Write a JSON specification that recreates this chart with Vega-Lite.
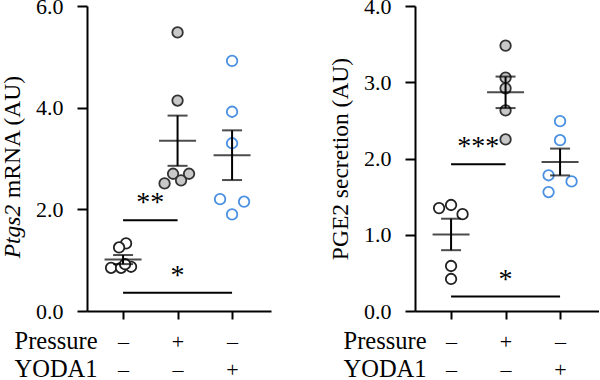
{
  "$schema": "https://vega.github.io/schema/vega-lite/v6.json",
  "background": "white",
  "padding": {"left": 0, "top": -5, "right": 0, "bottom": 0},
  "spacing": 57,
  "config": {
    "view": {"stroke": null},
    "font": "Liberation Serif",
    "style": {
      "guide-label": {"font": "Liberation Serif", "fontSize": 22, "fill": "#000000"},
      "guide-title": {"font": "Liberation Serif", "fontSize": 23.5, "fill": "#000000", "fontWeight": "normal"}
    },
    "axis": {
      "grid": false,
      "domainColor": "#000000",
      "domainWidth": 2,
      "tickColor": "#000000",
      "tickWidth": 2,
      "labelColor": "#000000",
      "labelFont": "Liberation Serif",
      "labelFontSize": 22,
      "titleColor": "#000000",
      "titleFont": "Liberation Serif",
      "titleFontSize": 23.5,
      "titleFontWeight": "normal"
    },
    "text": {"font": "Liberation Serif"}
  },
  "datasets": {
    "mrna": [
      {"g": 1, "v": 1.33, "j": 3},
      {"g": 1, "v": 1.25, "j": -4},
      {"g": 1, "v": 0.85, "j": -12},
      {"g": 1, "v": 0.85, "j": -2},
      {"g": 1, "v": 0.87, "j": 8},
      {"g": 1, "v": 0.92, "j": 2},
      {"g": 2, "v": 5.48, "j": 0},
      {"g": 2, "v": 4.14, "j": 0},
      {"g": 2, "v": 2.51, "j": -13},
      {"g": 2, "v": 2.70, "j": -4.5},
      {"g": 2, "v": 2.57, "j": 3.5},
      {"g": 2, "v": 2.70, "j": 11.5},
      {"g": 3, "v": 4.92, "j": 0},
      {"g": 3, "v": 3.92, "j": 0},
      {"g": 3, "v": 3.30, "j": 0},
      {"g": 3, "v": 2.20, "j": -12},
      {"g": 3, "v": 2.15, "j": 12},
      {"g": 3, "v": 1.90, "j": 0}
    ],
    "pge2": [
      {"g": 1, "v": 1.35, "j": -12},
      {"g": 1, "v": 1.39, "j": 0},
      {"g": 1, "v": 1.27, "j": 11.5},
      {"g": 1, "v": 0.59, "j": 0},
      {"g": 1, "v": 0.42, "j": 0},
      {"g": 2, "v": 3.48, "j": 0},
      {"g": 2, "v": 3.06, "j": 0},
      {"g": 2, "v": 2.92, "j": 0},
      {"g": 2, "v": 2.63, "j": 0},
      {"g": 2, "v": 2.25, "j": 0},
      {"g": 3, "v": 2.49, "j": 0},
      {"g": 3, "v": 2.24, "j": 0},
      {"g": 3, "v": 1.78, "j": -11.5},
      {"g": 3, "v": 1.70, "j": 11.5},
      {"g": 3, "v": 1.56, "j": -11.5}
    ],
    "sigA": [
      {"a": 1, "b": 2, "m": 1.5, "y": 1.785, "t": "**"},
      {"a": 1, "b": 3, "m": 2, "y": 0.36, "t": "*"}
    ],
    "sigB": [
      {"a": 1, "b": 2, "m": 1.5, "y": 1.925, "t": "***"},
      {"a": 1, "b": 3, "m": 2, "y": 0.19, "t": "*"}
    ]
  },
  "hconcat": [
    {
      "width": 184,
      "height": 305,
      "resolve": {"axis": {"x": "independent", "y": "independent"}},
      "layer": [
        {
          "data": {"name": "mrna"},
          "mark": {"type": "circle", "size": 110, "strokeWidth": 1.8, "opacity": 1},
          "encoding": {
            "x": {
              "field": "g", "type": "ordinal",
              "scale": {"type": "point", "domain": [0.5, 1, 1.5, 2, 2.5, 3, 3.5], "padding": 0.376, "align": 0.43},
              "axis": {
                "orient": "bottom",
                "values": [1, 2, 3], "tickSize": 8, "labelPadding": 29, "labelBaseline": "alphabetic",
                "labelAngle": 0, "labelFlush": false, "labelOverlap": false,
                "labelFont": "Liberation Serif", "labelFontSize": 22, "titleFont": "Liberation Serif", "titleFontSize": 24.5,
                "labelExpr": "datum.value == 2 ? '+' : '–'",
                "title": "Pressure", "titleAlign": "left", "titleBaseline": "alphabetic",
                "titleX": -73, "titleY": 37, "titleAnchor": "start"
              }
            },
            "xOffset": {"field": "j", "type": "quantitative", "scale": {"domain": [-12, 12], "range": [-12, 12]}},
            "y": {
              "field": "v", "type": "quantitative",
              "scale": {"domain": [0, 6], "nice": false},
              "axis": {
                "orient": "left", "values": [0, 2, 4, 6], "format": ".1f", "tickSize": 10, "labelPadding": 14,
                "labelFont": "Liberation Serif", "labelFontSize": 22, "titleFont": "Liberation Serif", "titleFontSize": 23.5,
                "title": "mRNA (AU)", "titleAlign": "left", "titleBaseline": "alphabetic",
                "titleX": -68, "titleY": 191.5, "titleAngle": 270
              }
            },
            "fill": {"field": "g", "type": "ordinal", "scale": {"domain": [1, 2, 3], "range": ["#ffffff", "#c8c8c8", "#ffffff"]}, "legend": null},
            "stroke": {"field": "g", "type": "ordinal", "scale": {"domain": [1, 2, 3], "range": ["#222222", "#333333", "#4a90e2"]}, "legend": null}
          }
        },
        {
          "data": {"name": "mrna"},
          "transform": [{"aggregate": [{"op": "mean", "field": "v", "as": "m"}], "groupby": ["g"]}],
          "mark": {"type": "tick", "orient": "horizontal", "size": 37, "thickness": 2, "color": "#000000"},
          "encoding": {
            "x": {
              "field": "g", "type": "ordinal",
              "axis": {
                "orient": "bottom",
                "values": [1, 2, 3], "ticks": false, "tickSize": 0, "domain": false, "labelPadding": 65.5, "labelBaseline": "alphabetic",
                "labelAngle": 0, "labelFlush": false, "labelOverlap": false,
                "labelFont": "Liberation Serif", "labelFontSize": 22, "titleFont": "Liberation Serif", "titleFontSize": 24.5,
                "labelExpr": "datum.value == 3 ? '+' : '–'",
                "title": "YODA1", "titleAlign": "left", "titleBaseline": "alphabetic",
                "titleX": -73, "titleY": 65.5, "titleAnchor": "start"
              }
            },
            "y": {
              "field": "m", "type": "quantitative",
              "axis": {
                "orient": "left", "title": "Ptgs2", "titleFontStyle": "italic", "labels": false, "ticks": false, "domain": false,
                "titleFont": "Liberation Serif", "titleFontSize": 23.5,
                "titleAlign": "right", "titleBaseline": "alphabetic", "titleX": -68, "titleY": 198.3, "titleAngle": 270
              }
            }
          }
        },
        {
          "data": {"name": "mrna"},
          "transform": [{"aggregate": [{"op": "mean", "field": "v", "as": "m"}, {"op": "stderr", "field": "v", "as": "se"}], "groupby": ["g"]}],
          "mark": {"type": "errorbar", "ticks": {"size": 20}, "thickness": 2, "color": "#000000"},
          "encoding": {
            "x": {"field": "g", "type": "ordinal", "axis": null},
            "y": {"field": "m", "type": "quantitative", "axis": null},
            "yError": {"field": "se"}
          }
        },
        {
          "data": {"name": "sigA"},
          "mark": {"type": "rule", "strokeWidth": 2, "color": "#000000"},
          "encoding": {
            "x": {"field": "a", "type": "ordinal", "axis": null},
            "x2": {"field": "b"},
            "y": {"field": "y", "type": "quantitative", "axis": null}
          }
        },
        {
          "data": {"name": "sigA"},
          "mark": {"type": "text", "font": "Liberation Serif", "fontSize": 28, "baseline": "alphabetic", "align": "center", "dy": -9, "color": "#000000"},
          "encoding": {
            "x": {"field": "m", "type": "ordinal", "axis": null},
            "y": {"field": "y", "type": "quantitative", "axis": null},
            "text": {"field": "t"}
          }
        }
      ]
    },
    {
      "width": 184,
      "height": 305,
      "resolve": {"axis": {"x": "independent", "y": "independent"}},
      "layer": [
        {
          "data": {"name": "pge2"},
          "mark": {"type": "circle", "size": 110, "strokeWidth": 1.8, "opacity": 1},
          "encoding": {
            "x": {
              "field": "g", "type": "ordinal",
              "scale": {"type": "point", "domain": [0.5, 1, 1.5, 2, 2.5, 3, 3.5], "padding": 0.376, "align": 0.43},
              "axis": {
                "orient": "bottom",
                "values": [1, 2, 3], "tickSize": 8, "labelPadding": 29, "labelBaseline": "alphabetic",
                "labelAngle": 0, "labelFlush": false, "labelOverlap": false,
                "labelFont": "Liberation Serif", "labelFontSize": 22, "titleFont": "Liberation Serif", "titleFontSize": 24.5,
                "labelExpr": "datum.value == 2 ? '+' : '–'",
                "title": "Pressure", "titleAlign": "left", "titleBaseline": "alphabetic",
                "titleX": -72, "titleY": 37, "titleAnchor": "start"
              }
            },
            "xOffset": {"field": "j", "type": "quantitative", "scale": {"domain": [-12, 12], "range": [-12, 12]}},
            "y": {
              "field": "v", "type": "quantitative",
              "scale": {"domain": [0, 4], "nice": false},
              "axis": {
                "orient": "left", "values": [0, 1, 2, 3, 4], "format": ".1f", "tickSize": 10, "labelPadding": 14,
                "labelFont": "Liberation Serif", "labelFontSize": 22, "titleFont": "Liberation Serif", "titleFontSize": 23.5,
                "title": "PGE2 secretion (AU)", "titleAlign": "center", "titleBaseline": "alphabetic",
                "titleX": -68, "titleY": 152.5, "titleAngle": 270
              }
            },
            "fill": {"field": "g", "type": "ordinal", "scale": {"domain": [1, 2, 3], "range": ["#ffffff", "#c8c8c8", "#ffffff"]}, "legend": null},
            "stroke": {"field": "g", "type": "ordinal", "scale": {"domain": [1, 2, 3], "range": ["#222222", "#333333", "#4a90e2"]}, "legend": null}
          }
        },
        {
          "data": {"name": "pge2"},
          "transform": [{"aggregate": [{"op": "mean", "field": "v", "as": "m"}], "groupby": ["g"]}],
          "mark": {"type": "tick", "orient": "horizontal", "size": 37, "thickness": 2, "color": "#000000"},
          "encoding": {
            "x": {
              "field": "g", "type": "ordinal",
              "axis": {
                "orient": "bottom",
                "values": [1, 2, 3], "ticks": false, "tickSize": 0, "domain": false, "labelPadding": 65.5, "labelBaseline": "alphabetic",
                "labelAngle": 0, "labelFlush": false, "labelOverlap": false,
                "labelFont": "Liberation Serif", "labelFontSize": 22, "titleFont": "Liberation Serif", "titleFontSize": 24.5,
                "labelExpr": "datum.value == 3 ? '+' : '–'",
                "title": "YODA1", "titleAlign": "left", "titleBaseline": "alphabetic",
                "titleX": -72, "titleY": 65.5, "titleAnchor": "start"
              }
            },
            "y": {"field": "m", "type": "quantitative", "axis": null}
          }
        },
        {
          "data": {"name": "pge2"},
          "transform": [{"aggregate": [{"op": "mean", "field": "v", "as": "m"}, {"op": "stderr", "field": "v", "as": "se"}], "groupby": ["g"]}],
          "mark": {"type": "errorbar", "ticks": {"size": 20}, "thickness": 2, "color": "#000000"},
          "encoding": {
            "x": {"field": "g", "type": "ordinal", "axis": null},
            "y": {"field": "m", "type": "quantitative", "axis": null},
            "yError": {"field": "se"}
          }
        },
        {
          "data": {"name": "sigB"},
          "mark": {"type": "rule", "strokeWidth": 2, "color": "#000000"},
          "encoding": {
            "x": {"field": "a", "type": "ordinal", "axis": null},
            "x2": {"field": "b"},
            "y": {"field": "y", "type": "quantitative", "axis": null}
          }
        },
        {
          "data": {"name": "sigB"},
          "mark": {"type": "text", "font": "Liberation Serif", "fontSize": 28, "baseline": "alphabetic", "align": "center", "dy": -9, "color": "#000000"},
          "encoding": {
            "x": {"field": "m", "type": "ordinal", "axis": null},
            "y": {"field": "y", "type": "quantitative", "axis": null},
            "text": {"field": "t"}
          }
        }
      ]
    }
  ]
}
